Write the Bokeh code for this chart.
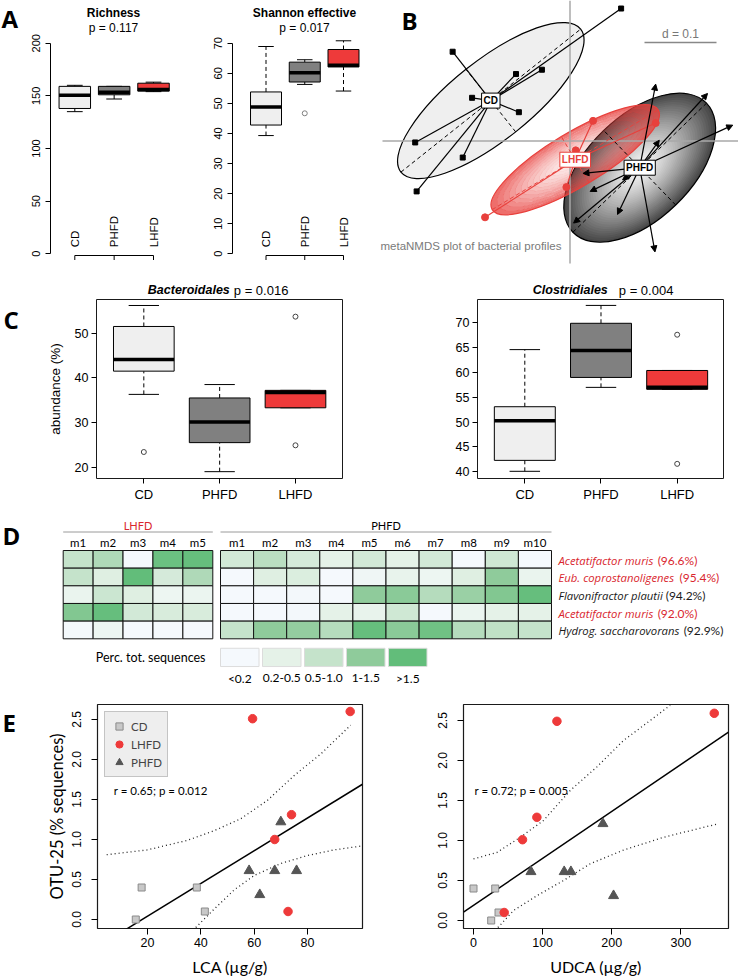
import numpy as np
from bokeh.plotting import figure
from bokeh.layouts import column, row
from bokeh.models import (Range1d, FixedTicker, Label, ColumnDataSource, Arrow,
                          NormalHead, Legend, LegendItem, NumeralTickFormatter)
from bokeh.core.properties import value
from bokeh.embed import file_html
from bokeh.resources import INLINE

# ============================ DATA ============================
groups = ["CD", "PHFD", "LHFD"]
group_pos = [1, 2, 3]

# --- A: alpha diversity (low whisker, Q1, median, Q3, high whisker)
rich_low = [135.0, 147.0, 154.0]
rich_q1 = [138.0, 151.0, 154.5]
rich_med = [150.5, 153.5, 156.0]
rich_q3 = [159.0, 159.0, 162.0]
rich_high = [160.0, 159.0, 163.0]
rich_ticks = [0, 50, 100, 150, 200]

shan_low = [39.3, 56.3, 54.1]
shan_q1 = [42.8, 57.1, 62.1]
shan_med = [48.8, 60.2, 62.7]
shan_q3 = [53.8, 63.7, 67.9]
shan_high = [68.9, 64.5, 70.8]
shan_out_group = [2]
shan_out_value = [46.7]
shan_ticks = [0, 10, 20, 30, 40, 50, 60, 70]

# --- B: metaNMDS site scores
cd_nmds_x = [0.071, -0.163, -0.075, -0.039, -0.136, -0.071, -0.215, -0.149, -0.213]
cd_nmds_y = [0.184, 0.124, 0.093, 0.099, 0.060, 0.040, -0.002, -0.023, -0.070]
lhfd_nmds_x = [0.032, 0.119, 0.008, -0.005, -0.118]
lhfd_nmds_y = [0.028, 0.025, -0.013, -0.064, -0.106]
phfd_nmds_x = [0.119, 0.191, 0.226, 0.124, 0.018, 0.028, 0.073, 0.066, 0.005, 0.118]
phfd_nmds_y = [0.079, 0.066, 0.022, 0.001, -0.045, -0.070, -0.054, -0.102, -0.114, -0.154]
ell_major = {"CD": 0.319, "PHFD": 0.258, "LHFD": 0.269}
ell_minor = {"CD": 0.111, "PHFD": 0.144, "LHFD": 0.075}
ell_angle = {"CD": 0.672, "PHFD": 0.768, "LHFD": 0.541}
scale_d = 0.1

# --- C: order abundance (%)
bact_low = [36.3, 19.0, 33.3]
bact_q1 = [41.5, 25.5, 33.3]
bact_med = [44.1, 30.1, 36.7]
bact_q3 = [51.5, 35.5, 37.2]
bact_high = [56.2, 38.5, 37.2]
bact_out_group = [1, 3, 3]
bact_out_value = [23.4, 53.7, 24.9]
bact_ticks = [20, 30, 40, 50]

clos_low = [40.1, 57.0, 56.6]
clos_q1 = [42.3, 59.0, 56.6]
clos_med = [50.3, 64.4, 57.0]
clos_q3 = [53.1, 69.9, 60.4]
clos_high = [64.6, 73.5, 60.4]
clos_out_group = [3, 3]
clos_out_value = [67.6, 41.6]
clos_ticks = [40, 45, 50, 55, 60, 65, 70]

# --- D: heatmap (shade on legend scale 0..4)
lhfd_mice = ["m1", "m2", "m3", "m4", "m5"]
phfd_mice = ["m1", "m2", "m3", "m4", "m5", "m6", "m7", "m8", "m9", "m10"]
otu_names = ["Acetatifactor muris", "Eub. coprostanoligenes", "Flavonifractor plautii",
             "Acetatifactor muris", "Hydrog. saccharovorans"]
otu_identity = ["(96.6%)", "(95.4%)", "(94.2%)", "(92.0%)", "(92.9%)"]
otu_highlight = [True, True, False, True, False]
lhfd_shade = [[2.0, 2.4, 0.0, 3.8, 3.9],
              [2.0, 1.2, 4.0, 1.5, 2.4],
              [0.7, 1.8, 1.2, 0.5, 0.6],
              [3.3, 3.9, 1.6, 1.4, 1.4],
              [0.1, 0.5, 0.0, 0.0, 0.0]]
phfd_shade = [[1.6, 2.2, 1.5, 1.0, 1.6, 1.0, 1.6, 0.0, 1.7, 0.0],
              [0.0, 1.2, 1.3, 0.0, 0.4, 0.8, 0.5, 1.2, 3.0, 0.7],
              [0.0, 0.0, 0.1, 0.0, 3.0, 3.1, 2.3, 2.8, 3.3, 3.9],
              [0.0, 0.0, 0.1, 1.0, 0.8, 1.7, 0.0, 0.6, 1.0, 1.0],
              [2.0, 3.0, 2.9, 2.3, 3.9, 3.1, 3.7, 2.3, 2.1, 2.0]]
legend_labels = ["<0.2", "0.2-0.5", "0.5-1.0", "1-1.5", ">1.5"]
legend_colors = ["#f5f9fd", "#e5f2e8", "#c5e3cb", "#8fcb9b", "#62bd7a"]

# --- E: OTU-25 vs bile acids
lca_cd = [15.6, 17.8, 38.5, 41.5]
otu_cd_lca = [0.00, 0.40, 0.40, 0.10]
lca_lhfd = [59.4, 96.0, 74.0, 67.7, 72.7]
otu_lhfd_lca = [2.51, 2.60, 1.31, 1.00, 0.10]
lca_phfd = [70.0, 58.1, 67.7, 75.9, 62.1]
otu_phfd_lca = [1.22, 0.61, 0.61, 0.61, 0.31]
lca_fit = (0.02046, -0.368)          # slope, intercept
lca_upper_x = [4.7, 20, 35, 45, 55, 65, 75, 85, 96.2]
lca_upper_y = [0.81, 0.87, 0.99, 1.11, 1.26, 1.49, 1.80, 2.07, 2.43]
lca_lower_x = [38.1, 45, 52.5, 60, 70, 80, 90, 100.6]
lca_lower_y = [-0.10, 0.13, 0.37, 0.55, 0.70, 0.80, 0.87, 0.92]
lca_ticks = [20, 40, 60, 80]

udca_cd = [0.0, 31.4, 36.2, 25.6]
otu_cd_udca = [0.40, 0.40, 0.10, 0.00]
udca_lhfd = [120.7, 348.3, 91.7, 70.9, 44.4]
otu_lhfd_udca = [2.49, 2.59, 1.29, 1.01, 0.10]
udca_phfd = [187.2, 83.1, 131.2, 140.9, 202.6]
otu_phfd_udca = [1.21, 0.61, 0.61, 0.61, 0.31]
udca_fit = (0.00587, 0.189)
udca_upper_x = [0, 33.8, 67.6, 101.3, 139.9, 178.5, 217, 255.6, 284.5]
udca_upper_y = [0.77, 0.85, 1.04, 1.25, 1.625, 1.92, 2.25, 2.50, 2.69]
udca_lower_x = [31.4, 57.9, 91.7, 130.2, 169, 217, 274.8, 354.4]
udca_lower_y = [-0.125, 0.125, 0.31, 0.50, 0.71, 0.88, 1.04, 1.21]
udca_ticks = [0, 100, 200, 300]
otu_ticks = [0, 0.5, 1.0, 1.5, 2.0, 2.5]

# ============================ STYLE ============================
R_FONT = "Liberation Sans"
M_FONT = "Lato"
L_FONT = "Open Sans"
RED = "#ee3a3a"
TXT_RED = "#d9262e"
box_fills = ["#efefef", "#808080", RED]


def X(v):
    return int(round(v))


Y = X


class Panel:
    def __init__(self, box, frame, xr, yr, axes=True):
        self.frame, self.xr, self.yr = frame, xr, yr
        x0, x1, y0, y1 = box
        fl, fr, ft, fb = frame
        kw = {} if axes else dict(x_axis_location=None, y_axis_location=None)
        p = figure(frame_width=X(fr) - X(fl), frame_height=Y(fb) - Y(ft),
                   min_border_left=X(fl) - X(x0), min_border_right=X(x1) - X(fr),
                   min_border_top=Y(ft) - Y(y0), min_border_bottom=Y(y1) - Y(fb),
                   x_range=Range1d(*xr), y_range=Range1d(*yr), title=None,
                   output_backend="svg", toolbar_location=None, **kw)
        p.grid.visible = False
        p.outline_line_color = None
        p.background_fill_color = "white"
        p.border_fill_color = "white"
        self.p = p

    def dx(self, px):
        fl, fr = self.frame[0], self.frame[1]
        return self.xr[0] + (px - fl) / (fr - fl) * (self.xr[1] - self.xr[0])

    def dy(self, py):
        ft, fb = self.frame[2], self.frame[3]
        return self.yr[0] + (fb - py) / (fb - ft) * (self.yr[1] - self.yr[0])

    def label(self, px, py, text, size, font=M_FONT, style="normal", color="black",
              align="left", baseline="middle", angle=0.0, data_x=None):
        x = data_x if data_x is not None else self.dx(px)
        self.p.add_layout(Label(x=x, y=self.dy(py), text=text, text_font=font,
                                text_font_size=f"{size}px", text_font_style=style,
                                text_color=color, text_align=align,
                                text_baseline=baseline, angle=angle))


def letter_panel(box, frame, letter, px, base):
    P = Panel(box, frame, (frame[0], frame[1]), (frame[3], frame[2]), axes=False)
    P.label(px, base, letter, 24, font=L_FONT, style="bold", baseline="alphabetic")
    return P


def style_axis(ax, ticks, size, orient=None, tick_out=5, standoff=4, bounds=None, line=True):
    ax.ticker = FixedTicker(ticks=ticks)
    ax.minor_tick_line_color = None
    ax.major_tick_in = 0
    ax.major_tick_out = tick_out
    ax.major_label_standoff = standoff
    ax.major_label_text_font = R_FONT
    ax.major_label_text_font_size = f"{size}px"
    ax.major_label_text_color = "black"
    ax.major_tick_line_color = "black"
    ax.axis_line_color = "black" if line else None
    if bounds is not None:
        ax.bounds = bounds
    if orient is not None:
        ax.major_label_orientation = orient


def axis_title(ax, text, size, font, standoff):
    ax.axis_label = text
    ax.axis_label_text_font = font
    ax.axis_label_text_font_size = f"{size}px"
    ax.axis_label_text_font_style = "normal"
    ax.axis_label_text_color = "black"
    ax.axis_label_standoff = standoff


def boxplot(p, low, q1, med, q3, high, out_g, out_v, out_color, dash="4 3"):
    half = 0.4
    src = ColumnDataSource(dict(
        x=group_pos, low=low, q1=q1, med=med, q3=q3, high=high, fillc=box_fills,
        l=[x - half for x in group_pos], r=[x + half for x in group_pos],
        cl=[x - half / 2 for x in group_pos], cr=[x + half / 2 for x in group_pos]))
    p.segment("x", "q3", "x", "high", source=src, line_color="black", line_width=1, line_dash=dash)
    p.segment("x", "low", "x", "q1", source=src, line_color="black", line_width=1, line_dash=dash)
    p.segment("cl", "high", "cr", "high", source=src, line_color="black", line_width=1)
    p.segment("cl", "low", "cr", "low", source=src, line_color="black", line_width=1)
    p.quad(left="l", right="r", bottom="q1", top="q3", fill_color="fillc", source=src,
           line_color="black", line_width=1)
    p.segment("l", "med", "r", "med", source=src, line_color="black", line_width=3.5)
    if out_g:
        p.scatter(out_g, out_v, marker="circle", size=5, fill_color=None,
                  line_color=out_color, line_width=1)


# ============================ PANEL A ============================
LA = letter_panel((0, 20, 0, 280), (0, 20, 0, 280), "A", 1, 18)
A1 = Panel((20, 185, 0, 280), (50, 178, 0, 280), (0.3825, 3.635), (-25.36, 240.55))
A1.p.xaxis.visible = False
boxplot(A1.p, rich_low, rich_q1, rich_med, rich_q3, rich_high, [], [], "#777")
A2 = Panel((185, 370, 0, 280), (232, 364, 0, 280), (0.135, 3.542), (-8.87, 84.19))
A2.p.xaxis.visible = False
boxplot(A2.p, shan_low, shan_q1, shan_med, shan_q3, shan_high, shan_out_group,
        shan_out_value, "#808080")
for P, ticks, bnd, title, pv, cx in [(A1, rich_ticks, (0, 200), "Richness", "p = 0.117", 113),
                                     (A2, shan_ticks, (0, 70), "Shannon effective", "p = 0.017", 304)]:
    style_axis(P.p.yaxis[0], ticks, 11, orient="vertical", tick_out=5, standoff=5, bounds=bnd)
    # group axis drawn below the boxes (line from first to last group, ticks pointing down)
    ya, yt = P.dy(255), P.dy(259.5)
    P.p.segment(x0=[group_pos[0]] + group_pos, y0=[ya] * 4, x1=[group_pos[-1]] + group_pos,
                y1=[ya] + [yt] * 3, line_color="black", line_width=1)
    P.label(cx, 12, title, 12, font=R_FONT, style="bold", align="center")
    P.label(cx, 27, pv, 12, font=R_FONT, align="center")
    for g, xp in zip(groups, group_pos):
        P.label(0, 246.7, g, 11.5, font=R_FONT, align="left", angle=np.pi / 2, data_x=xp)

# ============================ PANEL B ============================
B = Panel((370, 738, 0, 280), (370, 738, 0, 280),
          ((370 - 569.5) / 720, (738 - 569.5) / 720), ((140.5 - 280) / 720, 140.5 / 720), axes=False)
pb = B.p
pts = {"CD": (cd_nmds_x, cd_nmds_y), "LHFD": (lhfd_nmds_x, lhfd_nmds_y),
       "PHFD": (phfd_nmds_x, phfd_nmds_y)}
cent = {g: (float(np.mean(v[0])), float(np.mean(v[1]))) for g, v in pts.items()}


def ell_xy(g, s, n=120):
    cx, cy = cent[g]
    t = np.linspace(0, 2 * np.pi, n, endpoint=False)
    a, b = ell_major[g] / 2 * s, ell_minor[g] / 2 * s
    ca, sa = np.cos(ell_angle[g]), np.sin(ell_angle[g])
    return ((cx + a * np.cos(t) * ca - b * np.sin(t) * sa).tolist(),
            (cy + a * np.cos(t) * sa + b * np.sin(t) * ca).tolist())


def hex2rgb(h):
    h = h.lstrip("#")
    return [int(h[i:i + 2], 16) for i in (0, 2, 4)]


def mix(c1, c2, t):
    a, b = hex2rgb(c1), hex2rgb(c2)
    return "#%02x%02x%02x" % tuple(int(round(a[i] + (b[i] - a[i]) * t)) for i in range(3))


# CD ellipse
cx, cy = cent["CD"]
pb.ellipse(x=[cx], y=[cy], width=[ell_major["CD"]], height=[ell_minor["CD"]],
           angle=[ell_angle["CD"]], fill_color="#efefef", line_color="black", line_width=1.2)
# PHFD gradient ellipse
cx, cy = cent["PHFD"]
N = 34
sc = np.linspace(1.0, 0.03, N)
pb.ellipse(x=[cx] * N, y=[cy] * N, width=(ell_major["PHFD"] * sc).tolist(),
           height=(ell_minor["PHFD"] * sc).tolist(), angle=ell_angle["PHFD"],
           fill_color=[mix("#f6f6f6", "#474747", s ** 1.4) for s in sc], line_color=None)
pb.ellipse(x=[cx], y=[cy], width=[ell_major["PHFD"]], height=[ell_minor["PHFD"]],
           angle=[ell_angle["PHFD"]], fill_color=None, line_color="black", line_width=1.2)
# LHFD translucent gradient ellipse (rings, slightly overlapping to hide seams)
NR = 14
rx, ry, ra = [], [], []
for k in range(NR):
    so = 1 - k / NR
    ox, oy = ell_xy("LHFD", so)
    if k < NR - 1:
        ix, iy = ell_xy("LHFD", 1 - (k + 1) / NR - 0.004)
        rx.append([[ox, ix[::-1]]])
        ry.append([[oy, iy[::-1]]])
    else:
        rx.append([[ox]])
        ry.append([[oy]])
    ra.append(0.10 + 0.66 * so ** 1.8)
pb.multi_polygons(xs=rx, ys=ry, fill_color="#e8403c", fill_alpha=ra, line_color=None)
cx, cy = cent["LHFD"]
pb.ellipse(x=[cx], y=[cy], width=[ell_major["LHFD"]], height=[ell_minor["LHFD"]],
           angle=[ell_angle["LHFD"]], fill_color=None, line_color="#e8403c", line_width=1.2)

# zero lines
pb.segment(x0=[B.dx(382), 0], y0=[0, B.yr[1]], x1=[B.xr[1], 0], y1=[0, B.dy(263)],
           line_color="#a8a8a8", line_width=1.5)

# dashed ellipse axes
for g, col in [("CD", "black"), ("PHFD", "black"), ("LHFD", "#e8403c")]:
    cx, cy = cent[g]
    a, b = ell_major[g] / 2, ell_minor[g] / 2
    ca, sa = np.cos(ell_angle[g]), np.sin(ell_angle[g])
    pb.segment(x0=[cx - a * ca, cx + b * sa], y0=[cy - a * sa, cy - b * ca],
               x1=[cx + a * ca, cx - b * sa], y1=[cy + a * sa, cy + b * ca],
               line_color=col, line_width=1, line_dash="4 3")

# spiders
cx, cy = cent["CD"]
pb.segment(x0=[cx] * len(cd_nmds_x), y0=[cy] * len(cd_nmds_x), x1=cd_nmds_x, y1=cd_nmds_y,
           line_color="black", line_width=1.2)
pb.scatter(cd_nmds_x, cd_nmds_y, marker="square", size=5, fill_color="black", line_color="black")
cx, cy = cent["LHFD"]
pb.segment(x0=[cx] * len(lhfd_nmds_x), y0=[cy] * len(lhfd_nmds_x), x1=lhfd_nmds_x,
           y1=lhfd_nmds_y, line_color="#e8403c", line_width=1.2)
pb.scatter(lhfd_nmds_x, lhfd_nmds_y, marker="circle", size=7, fill_color="#e8403c",
           line_color="#e8403c")
cx, cy = cent["PHFD"]
asrc = ColumnDataSource(dict(xs=[cx] * len(phfd_nmds_x), ys=[cy] * len(phfd_nmds_x),
                             xe=phfd_nmds_x, ye=phfd_nmds_y))
pb.add_layout(Arrow(end=NormalHead(size=6, fill_color="black", line_color="black", line_width=1),
                    x_start="xs", y_start="ys", x_end="xe", y_end="ye", source=asrc,
                    line_color="black", line_width=1.2))

for g, col in [("CD", "black"), ("LHFD", "#e8403c"), ("PHFD", "black")]:
    pb.add_layout(Label(x=cent[g][0], y=cent[g][1], text=g, text_font=R_FONT,
                        text_font_size="10px", text_font_style="bold", text_color=col,
                        text_align="center", text_baseline="middle",
                        background_fill_color="white", border_line_color=col,
                        border_line_width=1, padding=2))

# scale bar
pb.segment(x0=[B.dx(644)], y0=[B.dy(42)], x1=[B.dx(644) + scale_d], y1=[B.dy(42)],
           line_color="#888888", line_width=1.5)
B.label(680, 33, "d = 0.1", 12, font=R_FONT, color="#777777", align="center")
B.label(380, 245, "metaNMDS plot of bacterial profiles", 11.5, font=R_FONT, color="#7a7a7a")
B.label(401, 20, "B", 24, font=L_FONT, style="bold", baseline="alphabetic")

# ============================ PANEL C ============================
S = Panel((0, 738, 280, 299), (0, 738, 280, 299), (0, 738), (299, 280), axes=False)
S.label(229.3, 289.5, "Bacteroidales", 12.5, font=R_FONT, style="bold italic", align="right")
S.label(233.3, 289.5, "p = 0.016", 13, font=R_FONT)
S.label(607.3, 289.5, "Clostridiales", 12.5, font=R_FONT, style="bold italic", align="right")
S.label(618.3, 289.5, "p = 0.004", 13, font=R_FONT)

LC = letter_panel((0, 20, 299, 518), (0, 20, 299, 478), "C", 3, 319)
C1 = Panel((20, 370, 299, 518), (96, 342, 299, 478), (0.376, 3.62), (17.47, 57.54))
boxplot(C1.p, bact_low, bact_q1, bact_med, bact_q3, bact_high, bact_out_group,
        bact_out_value, "#444444")
C2 = Panel((370, 738, 299, 518), (477, 723, 299, 478), (0.379, 3.608), (38.65, 74.69))
boxplot(C2.p, clos_low, clos_q1, clos_med, clos_q3, clos_high, clos_out_group,
        clos_out_value, "#444444")
for P, ticks in [(C1, bact_ticks), (C2, clos_ticks)]:
    P.p.outline_line_color = "#1a1a1a"
    P.p.outline_line_width = 1
    style_axis(P.p.yaxis[0], ticks, 12.5, tick_out=5, standoff=3, line=False)
    style_axis(P.p.xaxis[0], group_pos, 13, tick_out=5, standoff=3, line=False)
    P.p.xaxis[0].major_label_overrides = {1: "CD", 2: "PHFD", 3: "LHFD"}
axis_title(C1.p.yaxis[0], "abundance (%)", 13.5, R_FONT, 9)

# ============================ PANEL D ============================
D = Panel((0, 738, 518, 692), (0, 738, 518, 692), (0, 738), (692, 518), axes=False)
pd_ = D.p


def shade_color(v):
    v = min(max(v, 0.0), 4.0)
    i = min(int(np.floor(v)), 3)
    return mix(legend_colors[i], legend_colors[i + 1], v - i)


row_top, row_bot = 550.0, 638.3
rh = (row_bot - row_top) / 5
blocks = [(lhfd_mice, lhfd_shade, 62.7, 212.3, "LHFD", TXT_RED),
          (phfd_mice, phfd_shade, 220.0, 551.0, "PHFD", "black")]
for mice, shade, left, right, gname, gcol in blocks:
    cw = (right - left) / len(mice)
    cx_, cy_, cc = [], [], []
    for r in range(5):
        for c in range(len(mice)):
            cx_.append(left + (c + 0.5) * cw)
            cy_.append(row_top + (r + 0.5) * rh)
            cc.append(shade_color(shade[r][c]))
    pd_.rect(x=cx_, y=cy_, width=cw, height=rh, fill_color=cc, line_color="#151515", line_width=1)
    pd_.text(x=[left + (c + 0.5) * cw for c in range(len(mice))], y=[541.7] * len(mice), text=mice,
             text_font=value(M_FONT), text_font_size=value("11.5px"), text_align="center",
             text_baseline="middle", text_color="black")
    pd_.segment(x0=[left], y0=[531.5], x1=[right], y1=[531.5], line_color="#9a9a9a", line_width=1)
    D.label((left + right) / 2, 524.5, gname, 11, color=gcol, align="center")

# approximate advance widths (em) of Open Sans, used to place the identity after each name
CHAR_W = {'A': .633, 'E': .556, 'F': .514, 'H': .742, 'a': .556, 'b': .613, 'c': .48,
          'd': .613, 'e': .561, 'f': .336, 'g': .546, 'h': .613, 'i': .258, 'j': .258,
          'k': .529, 'l': .258, 'm': .929, 'n': .613, 'o': .601, 'p': .613, 'q': .613,
          'r': .407, 's': .477, 't': .351, 'u': .613, 'v': .501, 'w': .778, 'x': .524,
          'y': .502, 'z': .468, ' ': .26, '.': .266}
NAME_SIZE = 11.3
for r in range(5):
    col = TXT_RED if otu_highlight[r] else "#1a1a1a"
    yy = row_top + (r + 0.5) * rh + 0.8
    D.label(558, yy, otu_names[r], NAME_SIZE, font=L_FONT, style="italic", color=col)
    wname = sum(CHAR_W.get(ch, 0.55) for ch in otu_names[r]) * NAME_SIZE * 0.96
    D.label(558 + wname + 3.0, yy, otu_identity[r], 12, color=col)

sw_left = [220 + 42 * i for i in range(5)]
pd_.rect(x=[l + 19.25 for l in sw_left], y=[656.9] * 5, width=38.5, height=18.3,
         fill_color=legend_colors, line_color="#dcdcdc", line_width=1)
pd_.text(x=[l + 19.25 for l in sw_left], y=[677.5] * 5, text=legend_labels,
         text_font=value(M_FONT), text_font_size=value("12px"), text_align="center",
         text_baseline="middle", text_color="black")
D.label(205, 656.5, "Perc. tot. sequences", 12.5, align="right")
D.label(2, 535, "D", 24, font=L_FONT, style="bold", baseline="alphabetic")

# ============================ PANEL E ============================
LE = letter_panel((0, 20, 692, 979), (0, 20, 704, 928), "E", 2, 722)
E1 = Panel((20, 370, 692, 979), (96.7, 361.7, 704, 928), (1.25, 100.62), (-0.1125, 2.6875))
E2 = Panel((370, 738, 692, 979), (463.3, 728.3, 704, 928), (-14.47, 368.9), (-0.1, 2.7))
for P, xcd, ycd, xlh, ylh, xph, yph, fit, ux, uy, lx, ly, xt, rtxt, tx, xlab in [
        (E1, lca_cd, otu_cd_lca, lca_lhfd, otu_lhfd_lca, lca_phfd, otu_phfd_lca, lca_fit,
         lca_upper_x, lca_upper_y, lca_lower_x, lca_lower_y, lca_ticks,
         "r = 0.65; p = 0.012", 113, "LCA (µg/g)"),
        (E2, udca_cd, otu_cd_udca, udca_lhfd, otu_lhfd_udca, udca_phfd, otu_phfd_udca, udca_fit,
         udca_upper_x, udca_upper_y, udca_lower_x, udca_lower_y, udca_ticks,
         "r = 0.72; p = 0.005", 474.3, "UDCA (µg/g)")]:
    p = P.p
    p.outline_line_color = "#1a1a1a"
    p.outline_line_width = 1.2
    style_axis(p.yaxis[0], otu_ticks, 12, orient="vertical", tick_out=6, standoff=11, line=False)
    p.yaxis[0].formatter = NumeralTickFormatter(format="0.0")
    style_axis(p.xaxis[0], xt, 12.5, tick_out=6, standoff=3, line=False)
    axis_title(p.xaxis[0], xlab, 16, M_FONT, 7)
    x0, x1 = P.xr
    p.line([x0, x1], [fit[1] + fit[0] * x0, fit[1] + fit[0] * x1], line_color="black", line_width=1.5)
    p.line(ux, uy, line_color="#222222", line_width=1.3, line_dash="1 3")
    p.line(lx, ly, line_color="#222222", line_width=1.3, line_dash="1 3")
    r_cd = p.scatter(xcd, ycd, marker="square", size=7, fill_color="#c8c8c8",
                     line_color="#8a8a8a", line_width=1)
    r_lh = p.scatter(xlh, ylh, marker="circle", size=8.5, fill_color=RED, line_color=RED)
    r_ph = p.scatter(xph, yph, marker="triangle", size=10, fill_color="#555555",
                     line_color="#555555")
    P.label(tx, 790, rtxt, 11.5)
    if P is E1:
        leg = Legend(items=[LegendItem(label="CD", renderers=[r_cd]),
                            LegendItem(label="LHFD", renderers=[r_lh]),
                            LegendItem(label="PHFD", renderers=[r_ph])],
                     location="top_left", margin=7, padding=5, spacing=0,
                     label_height=18, glyph_height=18, glyph_width=18, label_standoff=3,
                     background_fill_color="#eeeeee", background_fill_alpha=1.0,
                     border_line_color="#9a9a9a", border_line_width=1,
                     label_text_font=M_FONT, label_text_font_size="11.5px")
        p.add_layout(leg)
axis_title(E1.p.yaxis[0], "OTU-25 (% sequences)", 16.5, M_FONT, 2)

layout = column(
    row(LA.p, A1.p, A2.p, B.p, spacing=0),
    S.p,
    row(LC.p, C1.p, C2.p, spacing=0),
    D.p,
    row(LE.p, E1.p, E2.p, spacing=0),
    spacing=0)
open("out.html", "w").write(file_html(layout, INLINE, "Figure"))
